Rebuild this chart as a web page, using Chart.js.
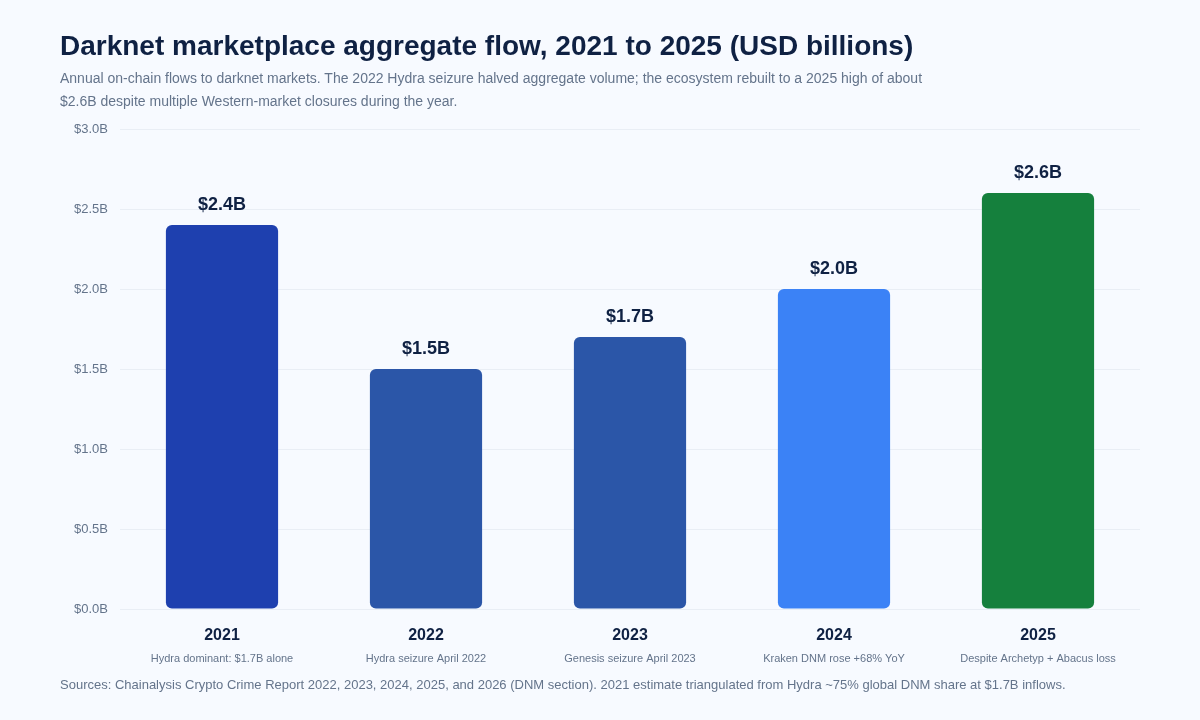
<!DOCTYPE html>
<html>
<head>
<meta charset="utf-8">
<script src="https://cdn.jsdelivr.net/npm/chart.js@4.4.1/dist/chart.umd.min.js"></script>
<style>
  html, body { margin: 0; padding: 0; background: #f7faff; }
  body { width: 1200px; height: 720px; position: relative; overflow: hidden;
         font-family: "Liberation Sans", Arial, Helvetica, sans-serif; }
  #chartWrap { position: absolute; left: 0; top: 0; width: 1200px; height: 720px; }
  .title { position: absolute; left: 60px; top: 29px; margin: 0; font-size: 28px; font-weight: bold;
           color: #0f2143; line-height: 34px; }
  .subtitle { position: absolute; left: 60px; top: 67px; width: 900px; margin: 0; font-size: 14px;
              line-height: 23px; color: #64748b; }
  .footer { position: absolute; left: 60px; top: 677px; margin: 0; font-size: 13px; color: #64748b; }
</style>
</head>
<body>
<div id="chartWrap"><canvas id="flowChart" width="1200" height="720"></canvas></div>
<h1 class="title">Darknet marketplace aggregate flow, 2021 to 2025 (USD billions)</h1>
<p class="subtitle">Annual on-chain flows to darknet markets. The 2022 Hydra seizure halved aggregate volume; the ecosystem rebuilt to a 2025 high of about $2.6B despite multiple Western-market closures during the year.</p>
<p class="footer">Sources: Chainalysis Crypto Crime Report 2022, 2023, 2024, 2025, and 2026 (DNM section). 2021 estimate triangulated from Hydra ~75% global DNM share at $1.7B inflows.</p>

<script>
// data
const years = ['2021', '2022', '2023', '2024', '2025'];
const flows = [2.4, 1.5, 1.7, 2.0, 2.6];
const notes = [
    'Hydra dominant: $1.7B alone',
    'Hydra seizure April 2022',
    'Genesis seizure April 2023',
    'Kraken DNM rose +68% YoY',
    'Despite Archetyp + Abacus loss'
];
const barColors = ['#1e40af', '#2b56a8', '#2b56a8', '#3b82f6', '#15803d'];

const FONT = '"Liberation Sans", Arial, Helvetica, sans-serif';

// value labels above bars + notes under the years
const labelsPlugin = {
    id: 'labels',
    afterDatasetsDraw(chart) {
        const ctx = chart.ctx;
        const meta = chart.getDatasetMeta(0);
        ctx.save();
        ctx.textAlign = 'center';
        ctx.textBaseline = 'middle';
        ctx.font = 'bold 18px ' + FONT;
        ctx.fillStyle = '#0f2143';
        meta.data.forEach((bar, i) => {
            ctx.fillText('$' + flows[i].toFixed(1) + 'B', bar.x, bar.y - 20);
        });
        ctx.font = '11px ' + FONT;
        ctx.fillStyle = '#64748b';
        const xScale = chart.scales.x;
        notes.forEach((n, i) => {
            ctx.fillText(n, xScale.getPixelForValue(i), chart.chartArea.bottom + 50);
        });
        ctx.restore();
    }
};

new Chart(document.getElementById('flowChart').getContext('2d'), {
    type: 'bar',
    data: {
        labels: years,
        datasets: [{
            data: flows,
            backgroundColor: barColors,
            borderRadius: 6,
            borderSkipped: false,
            barPercentage: 0.55,
            categoryPercentage: 1.0
        }]
    },
    options: {
        responsive: false,
        animation: false,
        layout: { padding: { left: 0, right: 60, top: 129, bottom: 0 } },
        plugins: { legend: { display: false }, tooltip: { enabled: false } },
        scales: {
            y: {
                min: 0,
                max: 3.0,
                ticks: {
                    stepSize: 0.5,
                    padding: 12,
                    color: '#64748b',
                    font: { family: FONT, size: 13 },
                    callback: (v) => '$' + Number(v).toFixed(1) + 'B'
                },
                grid: { color: '#e9eef5', lineWidth: 1, drawTicks: false },
                border: { display: false },
                afterFit: (scale) => { scale.width = 120; }
            },
            x: {
                ticks: {
                    padding: 17,
                    color: '#0f2143',
                    font: { family: FONT, size: 16, weight: 'bold' }
                },
                grid: { display: false, drawTicks: false },
                border: { display: false },
                afterFit: (scale) => { scale.height = 111; }
            }
        }
    },
    plugins: [labelsPlugin]
});
</script>
</body>
</html>
